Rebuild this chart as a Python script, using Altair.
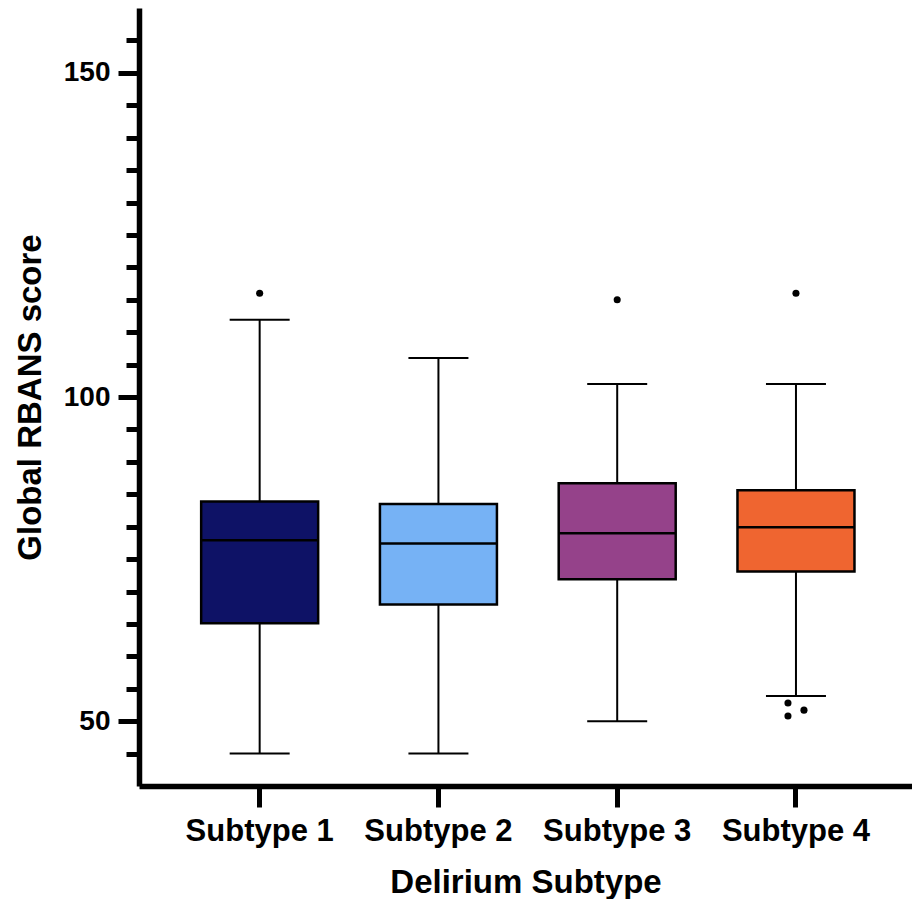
import altair as alt
import pandas as pd

subtypes = ["Subtype 1", "Subtype 2", "Subtype 3", "Subtype 4"]
q1 = [65.1, 68.0, 71.9, 73.1]
median = [77.9, 77.4, 79.0, 79.9]
q3 = [83.9, 83.5, 86.7, 85.6]
whisker_low = [45.0, 45.0, 50.0, 53.9]
whisker_high = [111.9, 106.0, 102.0, 102.0]
colors = ["#0e1266", "#76b2f5", "#95428a", "#ef6530"]

outlier_subtype = ["Subtype 1", "Subtype 3", "Subtype 4", "Subtype 4", "Subtype 4", "Subtype 4"]
outlier_value = [116.0, 115.0, 116.0, 52.8, 51.7, 50.8]
outlier_side = [0, 0, 0, -1, 1, -1]

y_ticks = list(range(45, 160, 5))

boxes = pd.DataFrame({
    "subtype": subtypes, "q1": q1, "median": median, "q3": q3,
    "lo": whisker_low, "hi": whisker_high,
})
outliers = pd.DataFrame({"subtype": outlier_subtype, "value": outlier_value, "side": outlier_side})

FONT = "Liberation Sans"
W = 773
PO = 0.162
STEP = W / (4 + 2 * PO)

x_enc = alt.X(
    "subtype:N",
    scale=alt.Scale(domain=subtypes, paddingInner=0, paddingOuter=PO, align=0.54),
    axis=alt.Axis(
        title="Delirium Subtype", labelAngle=0, tickSize=21, labelPadding=9,
        titlePadding=20, labelFontSize=31, titleFontSize=33,
    ),
)
y_scale = alt.Scale(domain=[40, 160], nice=False, zero=False)
y_axis = alt.Axis(
    title="Global RBANS score", values=y_ticks,
    labelExpr="datum.value % 50 === 0 ? datum.label : ''",
    tickSize={"condition": {"test": "datum.value % 50 === 0", "value": 21}, "value": 13},
    labelPadding=8, titlePadding=16, labelFontSize=28, titleFontSize=33,
)

base = alt.Chart(boxes)

whisk = base.mark_rule(color="black", strokeWidth=2).encode(
    x=x_enc,
    y=alt.Y("lo:Q", scale=y_scale, axis=y_axis),
    y2="hi:Q",
)
bars = base.mark_bar(size=117, stroke="black", strokeWidth=2.5).encode(
    x=x_enc,
    y=alt.Y("q1:Q", scale=y_scale, axis=y_axis),
    y2="q3:Q",
    color=alt.Color("subtype:N", scale=alt.Scale(domain=subtypes, range=colors), legend=None),
)
med = base.mark_tick(size=117, thickness=2.5, color="black", opacity=1).encode(
    x=x_enc, y=alt.Y("median:Q", scale=y_scale, axis=y_axis),
)
cap_lo = base.mark_tick(size=60, thickness=2, color="black", opacity=1).encode(
    x=x_enc, y=alt.Y("lo:Q", scale=y_scale, axis=y_axis),
)
cap_hi = base.mark_tick(size=60, thickness=2, color="black", opacity=1).encode(
    x=x_enc, y=alt.Y("hi:Q", scale=y_scale, axis=y_axis),
)
pts = alt.Chart(outliers).mark_circle(size=50, color="black", opacity=1).encode(
    x=x_enc,
    xOffset=alt.XOffset("side:Q", scale=alt.Scale(domain=[-1, 1], range=[STEP / 2 - 8, STEP / 2 + 8])),
    y=alt.Y("value:Q", scale=y_scale, axis=y_axis),
)

chart = alt.layer(whisk, bars, med, cap_lo, cap_hi, pts).properties(
    width=W, height=778,
    background="white",
    autosize=alt.AutoSizeParams(type="none"),
    padding={"left": 139, "top": 8, "right": 0, "bottom": 113},
).configure_view(stroke=None).configure_axis(
    grid=False, domainColor="black", domainWidth=5.5, tickColor="black", tickWidth=5,
    labelFont=FONT, titleFont=FONT, labelFontWeight="bold", titleFontWeight="bold",
    labelColor="black", titleColor="black",
)

chart.save("out.html", embed_options={"renderer": "svg", "actions": False})
